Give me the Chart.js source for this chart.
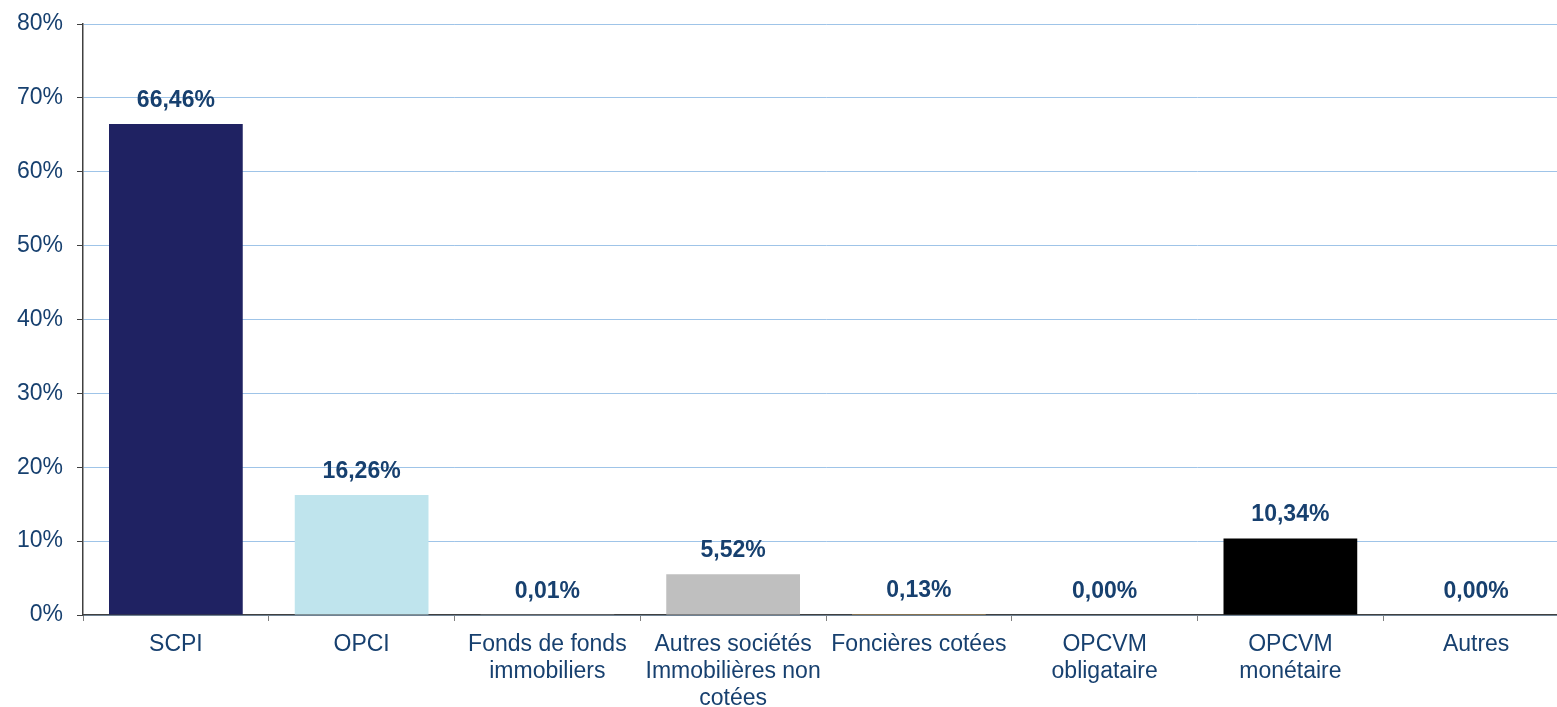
<!DOCTYPE html>
<html>
<head>
<meta charset="utf-8">
<script src="https://cdn.jsdelivr.net/npm/chart.js@4/dist/chart.umd.min.js"></script>
<style>
  html, body { margin: 0; padding: 0; background: #fff; overflow: hidden; }
  /* plot area runs a bit past the right edge, as in the original export */
  #wrap { width: 1569px; height: 707px; position: relative; }
</style>
</head>
<body>
<div id="wrap"><canvas id="chart"></canvas></div>
<script>
  // Categories (multi-line labels as in the source)
  const categories = [
    'SCPI',
    'OPCI',
    ['Fonds de fonds', 'immobiliers'],
    ['Autres sociétés', 'Immobilières non', 'cotées'],
    'Foncières cotées',
    ['OPCVM', 'obligataire'],
    ['OPCVM', 'monétaire'],
    'Autres'
  ];

  // Share of each asset class, in percent
  const shares = [66.46, 16.26, 0.01, 5.52, 0.13, 0.00, 10.34, 0.00];

  const barColors = ['#1f2262', '#bfe4ed', '#7f7f7f', '#bfbfbf', '#c9a25e', '#7f7f7f', '#000000', '#7f7f7f'];

  const yTicks = [0, 10, 20, 30, 40, 50, 60, 70, 80];

  const textBlue = '#17406f';
  const fontFamily = '"Liberation Sans", Arial, sans-serif';

  // Draws the value above each bar, French decimal comma
  const valueLabels = {
    id: 'valueLabels',
    afterDatasetsDraw(chart) {
      const ctx = chart.ctx;
      const meta = chart.getDatasetMeta(0);
      ctx.save();
      ctx.font = 'bold 23px ' + fontFamily;
      ctx.fillStyle = textBlue;
      ctx.textAlign = 'center';
      ctx.textBaseline = 'bottom';
      meta.data.forEach((bar, i) => {
        const txt = shares[i].toFixed(2).replace('.', ',') + '%';
        ctx.fillText(txt, bar.x, bar.y - 12);
      });
      ctx.restore();
    }
  };

  new Chart(document.getElementById('chart'), {
    type: 'bar',
    data: {
      labels: categories,
      datasets: [{
        data: shares,
        backgroundColor: barColors,
        borderWidth: 0,
        categoryPercentage: 1,
        barPercentage: 0.72
      }]
    },
    options: {
      responsive: true,
      maintainAspectRatio: false,
      animation: false,
      layout: { padding: { top: 24, right: 0, left: 0, bottom: 0 } },
      plugins: {
        legend: { display: false },
        tooltip: { enabled: false }
      },
      scales: {
        x: {
          grid: {
            drawOnChartArea: false,
            drawTicks: true,
            tickLength: 6,
            tickColor: '#7f7f7f'
          },
          border: { color: '#404040', width: 1.5 },
          ticks: {
            color: textBlue,
            font: { family: fontFamily, size: 23, lineHeight: 1.18 },
            padding: 10,
            maxRotation: 0,
            autoSkip: false
          },
          afterFit(scale) {
            scale.height = 92;
            scale.paddingLeft = 0;
            scale.paddingRight = 0;
          }
        },
        y: {
          min: 0,
          max: 80,
          afterBuildTicks(scale) { scale.ticks = yTicks.map(v => ({ value: v })); },
          grid: {
            color: '#9fc4e8',
            tickColor: '#404040',
            tickLength: 6
          },
          border: { color: '#404040', width: 1.5 },
          ticks: {
            color: textBlue,
            font: { family: fontFamily, size: 23 },
            padding: 14,
            callback: v => v + '%'
          },
          afterFit(scale) {
            scale.width = 83;
            scale.paddingTop = 0;
            scale.paddingBottom = 0;
          }
        }
      }
    },
    plugins: [valueLabels]
  });
</script>
</body>
</html>
